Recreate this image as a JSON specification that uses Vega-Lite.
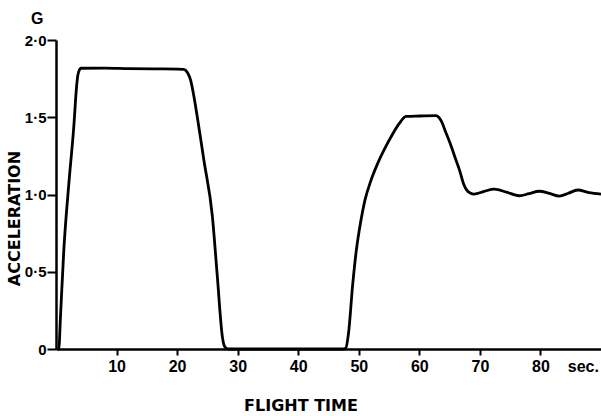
{
  "$schema": "https://vega.github.io/schema/vega-lite/v6.json",
  "width": 545,
  "height": 309,
  "autosize": "none",
  "padding": {"left": 56, "top": 40, "right": 0, "bottom": 67},
  "background": "white",
  "config": {"view": {"stroke": null}, "font": "Liberation Sans"},
  "title": {"text": "G", "anchor": "start", "frame": "group", "dx": -25, "offset": 6, "fontSize": 16, "fontWeight": "bold", "font": "Liberation Sans", "color": "black"},
  "data": {"values": [
    {"t": 0.3, "g": 0}, {"t": 0.46, "g": 0}, {"t": 0.74, "g": 0.21}, {"t": 1.29, "g": 0.64}, {"t": 2.12, "g": 1.07},
    {"t": 2.94, "g": 1.44}, {"t": 3.4, "g": 1.70}, {"t": 3.6, "g": 1.77}, {"t": 3.85, "g": 1.805}, {"t": 4.1, "g": 1.817},
    {"t": 8, "g": 1.818}, {"t": 12, "g": 1.815}, {"t": 16, "g": 1.813}, {"t": 20, "g": 1.812}, {"t": 21.1, "g": 1.81},
    {"t": 21.7, "g": 1.79}, {"t": 22.23, "g": 1.74}, {"t": 22.8, "g": 1.63}, {"t": 23.34, "g": 1.5}, {"t": 24.43, "g": 1.22},
    {"t": 25.82, "g": 0.86}, {"t": 26.64, "g": 0.47}, {"t": 27.47, "g": 0.08}, {"t": 27.74, "g": 0.026}, {"t": 28.1, "g": 0.005},
    {"t": 28.56, "g": 0}, {"t": 47.4, "g": 0}, {"t": 47.85, "g": 0.006}, {"t": 48.3, "g": 0.1}, {"t": 49.0, "g": 0.42},
    {"t": 49.6, "g": 0.64}, {"t": 50.3, "g": 0.82}, {"t": 51.0, "g": 0.96}, {"t": 52.0, "g": 1.09}, {"t": 53.0, "g": 1.19},
    {"t": 54.2, "g": 1.29}, {"t": 55.5, "g": 1.385}, {"t": 56.7, "g": 1.46}, {"t": 57.8, "g": 1.505}, {"t": 60, "g": 1.508},
    {"t": 62.73, "g": 1.51}, {"t": 63.2, "g": 1.5}, {"t": 63.7, "g": 1.47}, {"t": 64.3, "g": 1.41}, {"t": 65.1, "g": 1.33},
    {"t": 65.9, "g": 1.24}, {"t": 66.7, "g": 1.15}, {"t": 67.3, "g": 1.07}, {"t": 67.8, "g": 1.03}, {"t": 68.4, "g": 1.01},
    {"t": 69.06, "g": 1.003}, {"t": 70.7, "g": 1.02}, {"t": 72.36, "g": 1.035}, {"t": 74.4, "g": 1.015}, {"t": 76.49, "g": 0.992},
    {"t": 78.1, "g": 1.005}, {"t": 79.8, "g": 1.021}, {"t": 81.5, "g": 1.007}, {"t": 83.1, "g": 0.99}, {"t": 84.6, "g": 1.008},
    {"t": 86.15, "g": 1.029}, {"t": 88, "g": 1.012}, {"t": 90, "g": 1.003}
  ]},
  "mark": {"type": "line", "color": "black", "strokeWidth": 2.8, "interpolate": "monotone"},
  "encoding": {
    "x": {
      "field": "t", "type": "quantitative",
      "scale": {"domain": [0, 90], "nice": false, "zero": false},
      "axis": {
        "title": "FLIGHT TIME",
        "values": [10, 20, 30, 40, 50, 60, 70, 80, 87],
        "labelExpr": "datum.value == 87 ? 'sec.' : datum.label",
        "tickOpacity": {"condition": {"test": "datum.value == 87", "value": 0}, "value": 1},
        "grid": false,
        "domainColor": "black", "domainWidth": 2.5,
        "tickColor": "black", "tickWidth": 2, "tickSize": 6,
        "labelFont": "Liberation Sans", "labelFontWeight": "bold", "labelFontSize": 16, "labelColor": "black",
        "labelPadding": 3, "labelFlush": false, "labelOverlap": false, "labelBound": false,
        "titleFont": "DejaVu Sans", "titleFontSize": 16, "titleFontWeight": "bold", "titleColor": "black",
        "titleX": 244.5, "titleY": 48, "titleBaseline": "top", "titleAlign": "center"
      }
    },
    "y": {
      "field": "g", "type": "quantitative",
      "scale": {"domain": [0, 2], "nice": false},
      "axis": {
        "title": "ACCELERATION",
        "values": [0, 0.5, 1, 1.5, 2],
        "labelExpr": "datum.value == 0 ? '0' : replace(format(datum.value, '.1f'), '.', '·')",
        "grid": false,
        "domainColor": "black", "domainWidth": 2.5,
        "tickColor": "black", "tickWidth": 2, "tickSize": 9,
        "labelFont": "Liberation Sans", "labelFontWeight": "bold", "labelFontSize": 15, "labelColor": "black",
        "labelPadding": 1, "labelOverlap": false, "labelBound": false, "labelFlush": false,
        "titleFont": "DejaVu Sans", "titleFontSize": 16, "titleFontWeight": "bold", "titleColor": "black",
        "titleX": -42, "titleY": 178, "titleBaseline": "middle", "titleAlign": "center", "titleAngle": 270
      }
    }
  }
}
